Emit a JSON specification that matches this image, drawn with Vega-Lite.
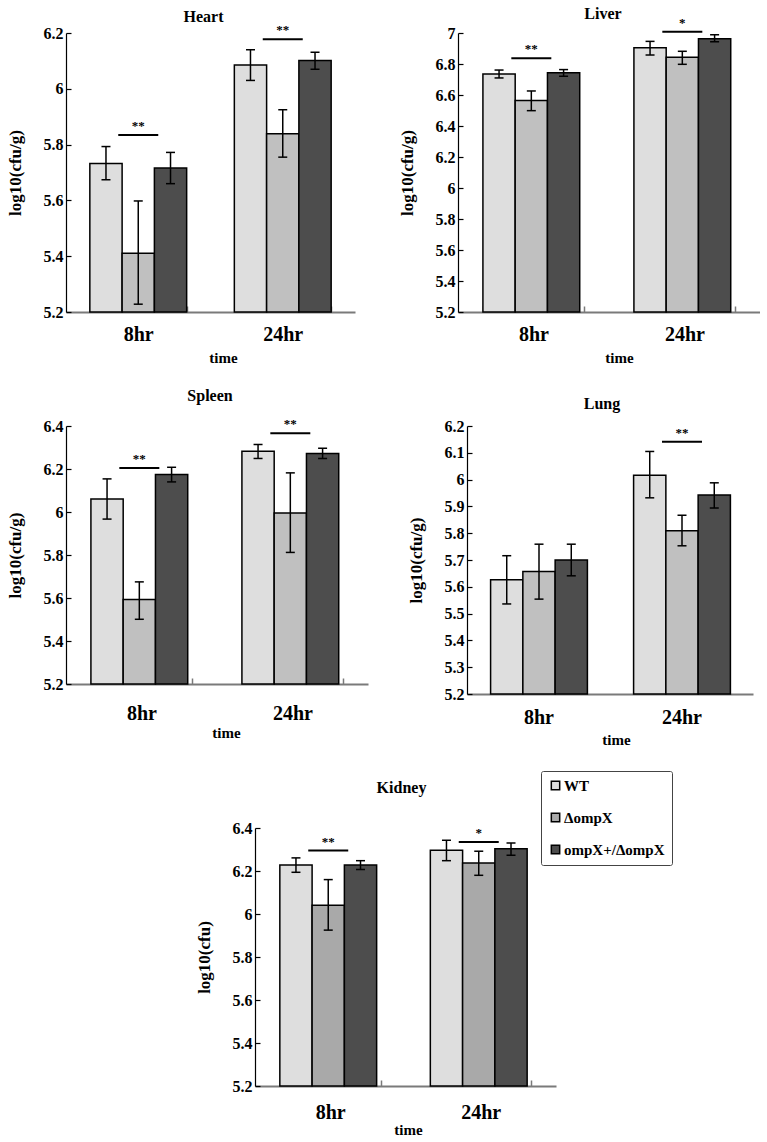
{
  "$schema": "https://vega.github.io/schema/vega-lite/v6.json",
  "background": "white",
  "padding": {"left": 6, "top": 5, "right": 0, "bottom": 0},
  "datasets": {
    "bars": [
      {"organ": "Heart", "time": "8hr", "strain": "WT", "mean": 5.732, "lo": 5.674, "hi": 5.793},
      {"organ": "Heart", "time": "8hr", "strain": "ΔompX", "mean": 5.411, "lo": 5.228, "hi": 5.598},
      {"organ": "Heart", "time": "8hr", "strain": "ompX+/ΔompX", "mean": 5.716, "lo": 5.66, "hi": 5.772},
      {"organ": "Heart", "time": "24hr", "strain": "WT", "mean": 6.085, "lo": 6.03, "hi": 6.14},
      {"organ": "Heart", "time": "24hr", "strain": "ΔompX", "mean": 5.839, "lo": 5.755, "hi": 5.925},
      {"organ": "Heart", "time": "24hr", "strain": "ompX+/ΔompX", "mean": 6.101, "lo": 6.07, "hi": 6.131},
      {"organ": "Liver", "time": "8hr", "strain": "WT", "mean": 6.736, "lo": 6.71, "hi": 6.761},
      {"organ": "Liver", "time": "8hr", "strain": "ΔompX", "mean": 6.565, "lo": 6.499, "hi": 6.626},
      {"organ": "Liver", "time": "8hr", "strain": "ompX+/ΔompX", "mean": 6.744, "lo": 6.721, "hi": 6.764},
      {"organ": "Liver", "time": "24hr", "strain": "WT", "mean": 6.905, "lo": 6.858, "hi": 6.946},
      {"organ": "Liver", "time": "24hr", "strain": "ΔompX", "mean": 6.843, "lo": 6.798, "hi": 6.882},
      {"organ": "Liver", "time": "24hr", "strain": "ompX+/ΔompX", "mean": 6.963, "lo": 6.944, "hi": 6.989},
      {"organ": "Spleen", "time": "8hr", "strain": "WT", "mean": 6.06, "lo": 5.967, "hi": 6.154},
      {"organ": "Spleen", "time": "8hr", "strain": "ΔompX", "mean": 5.593, "lo": 5.501, "hi": 5.675},
      {"organ": "Spleen", "time": "8hr", "strain": "ompX+/ΔompX", "mean": 6.174, "lo": 6.14, "hi": 6.208},
      {"organ": "Spleen", "time": "24hr", "strain": "WT", "mean": 6.283, "lo": 6.249, "hi": 6.314},
      {"organ": "Spleen", "time": "24hr", "strain": "ΔompX", "mean": 5.995, "lo": 5.812, "hi": 6.182},
      {"organ": "Spleen", "time": "24hr", "strain": "ompX+/ΔompX", "mean": 6.272, "lo": 6.249, "hi": 6.296},
      {"organ": "Lung", "time": "8hr", "strain": "WT", "mean": 5.626, "lo": 5.536, "hi": 5.716},
      {"organ": "Lung", "time": "8hr", "strain": "ΔompX", "mean": 5.657, "lo": 5.554, "hi": 5.759},
      {"organ": "Lung", "time": "8hr", "strain": "ompX+/ΔompX", "mean": 5.7, "lo": 5.641, "hi": 5.759},
      {"organ": "Lung", "time": "24hr", "strain": "WT", "mean": 6.016, "lo": 5.932, "hi": 6.105},
      {"organ": "Lung", "time": "24hr", "strain": "ΔompX", "mean": 5.809, "lo": 5.753, "hi": 5.867},
      {"organ": "Lung", "time": "24hr", "strain": "ompX+/ΔompX", "mean": 5.943, "lo": 5.894, "hi": 5.988},
      {"organ": "Kidney", "time": "8hr", "strain": "WT", "mean": 6.228, "lo": 6.194, "hi": 6.261},
      {"organ": "Kidney", "time": "8hr", "strain": "ΔompX", "mean": 6.041, "lo": 5.925, "hi": 6.16},
      {"organ": "Kidney", "time": "8hr", "strain": "ompX+/ΔompX", "mean": 6.228, "lo": 6.207, "hi": 6.248},
      {"organ": "Kidney", "time": "24hr", "strain": "WT", "mean": 6.296, "lo": 6.248, "hi": 6.343},
      {"organ": "Kidney", "time": "24hr", "strain": "ΔompX", "mean": 6.237, "lo": 6.18, "hi": 6.292},
      {"organ": "Kidney", "time": "24hr", "strain": "ompX+/ΔompX", "mean": 6.303, "lo": 6.273, "hi": 6.33}
    ],
    "sig": [
      {"organ": "Heart", "time": "8hr", "from": "WT", "to": "ΔompX", "y": 5.834, "label": "**"},
      {"organ": "Heart", "time": "24hr", "from": "WT", "to": "ΔompX", "y": 6.178, "label": "**"},
      {"organ": "Liver", "time": "8hr", "from": "WT", "to": "ΔompX", "y": 6.837, "label": "**"},
      {"organ": "Liver", "time": "24hr", "from": "WT", "to": "ΔompX", "y": 7.008, "label": "*"},
      {"organ": "Spleen", "time": "8hr", "from": "WT", "to": "ΔompX", "y": 6.205, "label": "**"},
      {"organ": "Spleen", "time": "24hr", "from": "WT", "to": "ΔompX", "y": 6.366, "label": "**"},
      {"organ": "Lung", "time": "24hr", "from": "WT", "to": "ΔompX", "y": 6.141, "label": "**"},
      {"organ": "Kidney", "time": "8hr", "from": "WT", "to": "ΔompX", "y": 6.295, "label": "**"},
      {"organ": "Kidney", "time": "24hr", "from": "WT", "to": "ΔompX", "y": 6.335, "label": "*"}
    ]
  },
  "resolve": {"scale": {"color": "independent"}},
  "spacing": 23,
  "vconcat": [
    {
      "hconcat": [
        {
          "title": {"text": "Heart", "offset": -1, "dx": -7},
          "width": 289, "height": 279,
          "layer": [
            {"data": {"name": "bars"}, "transform": [{"filter": "datum.organ === 'Heart'"}],
             "mark": {"type": "bar", "stroke": "black", "strokeWidth": 1.5},
             "encoding": {
               "x": {"field": "time", "type": "nominal", "scale": {"domain": ["8hr", "24hr"], "paddingInner": 0.33, "paddingOuter": 0.165}, "title": "time", "axis": {"labelPadding": 18, "titlePadding": 6, "titleX": 157, "tickBand": "extent", "tickSize": -6}},
               "xOffset": {"field": "strain", "type": "nominal", "scale": {"domain": ["WT", "ΔompX", "ompX+/ΔompX"]}},
               "y": {"field": "mean", "type": "quantitative", "scale": {"domain": [5.2, 6.2], "nice": false, "zero": false}, "title": "log10(cfu/g)", "axis": {"values": [5.2, 5.4, 5.6, 5.8, 6, 6.2], "tickCount": 30, "format": "~r", "labelOverlap": false}},
               "y2": {"datum": 5.2},
               "color": {"field": "strain", "type": "nominal", "scale": {"domain": ["WT", "ΔompX", "ompX+/ΔompX"], "range": ["#dedede", "#c0c0c0", "#4d4d4d"]}, "legend": null}
             }},
            {"data": {"name": "bars"}, "transform": [{"filter": "datum.organ === 'Heart'"}],
             "mark": {"type": "rule", "color": "black", "strokeWidth": 1.5},
             "encoding": {
               "x": {"field": "time", "type": "nominal", "scale": {"domain": ["8hr", "24hr"]}, "title": "time"},
               "xOffset": {"field": "strain", "type": "nominal", "scale": {"domain": ["WT", "ΔompX", "ompX+/ΔompX"]}},
               "y": {"field": "lo", "type": "quantitative", "scale": {"domain": [5.2, 6.2]}, "title": "log10(cfu/g)"},
               "y2": {"field": "hi"}
             }},
            {"data": {"name": "bars"}, "transform": [{"filter": "datum.organ === 'Heart'"}],
             "mark": {"type": "tick", "color": "black", "opacity": 1, "thickness": 1.5, "size": 9},
             "encoding": {
               "x": {"field": "time", "type": "nominal", "scale": {"domain": ["8hr", "24hr"]}, "title": "time"},
               "xOffset": {"field": "strain", "type": "nominal", "scale": {"domain": ["WT", "ΔompX", "ompX+/ΔompX"]}},
               "y": {"field": "lo", "type": "quantitative", "scale": {"domain": [5.2, 6.2]}, "title": "log10(cfu/g)"}
             }},
            {"data": {"name": "bars"}, "transform": [{"filter": "datum.organ === 'Heart'"}],
             "mark": {"type": "tick", "color": "black", "opacity": 1, "thickness": 1.5, "size": 9},
             "encoding": {
               "x": {"field": "time", "type": "nominal", "scale": {"domain": ["8hr", "24hr"]}, "title": "time"},
               "xOffset": {"field": "strain", "type": "nominal", "scale": {"domain": ["WT", "ΔompX", "ompX+/ΔompX"]}},
               "y": {"field": "hi", "type": "quantitative", "scale": {"domain": [5.2, 6.2]}, "title": "log10(cfu/g)"}
             }},
            {"data": {"name": "sig"}, "transform": [{"filter": "datum.organ === 'Heart'"}],
             "mark": {"type": "tick", "color": "black", "opacity": 1, "thickness": 2, "size": 40},
             "encoding": {
               "x": {"field": "time", "type": "nominal", "scale": {"domain": ["8hr", "24hr"]}, "title": "time"},
               "xOffset": {"field": "to", "type": "nominal", "bandPosition": 0, "scale": {"domain": ["WT", "ΔompX", "ompX+/ΔompX"]}},
               "y": {"field": "y", "type": "quantitative", "scale": {"domain": [5.2, 6.2]}, "title": "log10(cfu/g)"}
             }},
            {"data": {"name": "sig"}, "transform": [{"filter": "datum.organ === 'Heart'"}],
             "mark": {"type": "text", "color": "black", "fontSize": 13, "fontWeight": "bold", "baseline": "alphabetic", "dy": -5},
             "encoding": {
               "x": {"field": "time", "type": "nominal", "scale": {"domain": ["8hr", "24hr"]}, "title": "time"},
               "xOffset": {"field": "to", "type": "nominal", "bandPosition": 0, "scale": {"domain": ["WT", "ΔompX", "ompX+/ΔompX"]}},
               "y": {"field": "y", "type": "quantitative", "scale": {"domain": [5.2, 6.2]}, "title": "log10(cfu/g)"},
               "text": {"field": "label"}
             }}
          ]
        },
        {
          "title": {"text": "Liver", "offset": -5, "dx": -6},
          "width": 302, "height": 279,
          "layer": [
            {"data": {"name": "bars"}, "transform": [{"filter": "datum.organ === 'Liver'"}],
             "mark": {"type": "bar", "stroke": "black", "strokeWidth": 1.5},
             "encoding": {
               "x": {"field": "time", "type": "nominal", "scale": {"domain": ["8hr", "24hr"], "paddingInner": 0.33, "paddingOuter": 0.165}, "title": "time", "axis": {"labelPadding": 18, "titlePadding": 6, "titleX": 161, "tickBand": "extent", "tickSize": -6}},
               "xOffset": {"field": "strain", "type": "nominal", "scale": {"domain": ["WT", "ΔompX", "ompX+/ΔompX"]}},
               "y": {"field": "mean", "type": "quantitative", "scale": {"domain": [5.2, 7], "nice": false, "zero": false}, "title": "log10(cfu/g)", "axis": {"values": [5.2, 5.4, 5.6, 5.8, 6, 6.2, 6.4, 6.6, 6.8, 7], "tickCount": 30, "format": "~r", "labelOverlap": false}},
               "y2": {"datum": 5.2},
               "color": {"field": "strain", "type": "nominal", "scale": {"domain": ["WT", "ΔompX", "ompX+/ΔompX"], "range": ["#dedede", "#c0c0c0", "#4d4d4d"]}, "legend": null}
             }},
            {"data": {"name": "bars"}, "transform": [{"filter": "datum.organ === 'Liver'"}],
             "mark": {"type": "rule", "color": "black", "strokeWidth": 1.5},
             "encoding": {
               "x": {"field": "time", "type": "nominal", "scale": {"domain": ["8hr", "24hr"]}, "title": "time"},
               "xOffset": {"field": "strain", "type": "nominal", "scale": {"domain": ["WT", "ΔompX", "ompX+/ΔompX"]}},
               "y": {"field": "lo", "type": "quantitative", "scale": {"domain": [5.2, 7]}, "title": "log10(cfu/g)"},
               "y2": {"field": "hi"}
             }},
            {"data": {"name": "bars"}, "transform": [{"filter": "datum.organ === 'Liver'"}],
             "mark": {"type": "tick", "color": "black", "opacity": 1, "thickness": 1.5, "size": 9},
             "encoding": {
               "x": {"field": "time", "type": "nominal", "scale": {"domain": ["8hr", "24hr"]}, "title": "time"},
               "xOffset": {"field": "strain", "type": "nominal", "scale": {"domain": ["WT", "ΔompX", "ompX+/ΔompX"]}},
               "y": {"field": "lo", "type": "quantitative", "scale": {"domain": [5.2, 7]}, "title": "log10(cfu/g)"}
             }},
            {"data": {"name": "bars"}, "transform": [{"filter": "datum.organ === 'Liver'"}],
             "mark": {"type": "tick", "color": "black", "opacity": 1, "thickness": 1.5, "size": 9},
             "encoding": {
               "x": {"field": "time", "type": "nominal", "scale": {"domain": ["8hr", "24hr"]}, "title": "time"},
               "xOffset": {"field": "strain", "type": "nominal", "scale": {"domain": ["WT", "ΔompX", "ompX+/ΔompX"]}},
               "y": {"field": "hi", "type": "quantitative", "scale": {"domain": [5.2, 7]}, "title": "log10(cfu/g)"}
             }},
            {"data": {"name": "sig"}, "transform": [{"filter": "datum.organ === 'Liver'"}],
             "mark": {"type": "tick", "color": "black", "opacity": 1, "thickness": 2, "size": 40},
             "encoding": {
               "x": {"field": "time", "type": "nominal", "scale": {"domain": ["8hr", "24hr"]}, "title": "time"},
               "xOffset": {"field": "to", "type": "nominal", "bandPosition": 0, "scale": {"domain": ["WT", "ΔompX", "ompX+/ΔompX"]}},
               "y": {"field": "y", "type": "quantitative", "scale": {"domain": [5.2, 7]}, "title": "log10(cfu/g)"}
             }},
            {"data": {"name": "sig"}, "transform": [{"filter": "datum.organ === 'Liver'"}],
             "mark": {"type": "text", "color": "black", "fontSize": 13, "fontWeight": "bold", "baseline": "alphabetic", "dy": -5},
             "encoding": {
               "x": {"field": "time", "type": "nominal", "scale": {"domain": ["8hr", "24hr"]}, "title": "time"},
               "xOffset": {"field": "to", "type": "nominal", "bandPosition": 0, "scale": {"domain": ["WT", "ΔompX", "ompX+/ΔompX"]}},
               "y": {"field": "y", "type": "quantitative", "scale": {"domain": [5.2, 7]}, "title": "log10(cfu/g)"},
               "text": {"field": "label"}
             }}
          ]
        }
      ],
      "spacing": 103,
      "bounds": "flush"
    },
    {
      "hconcat": [
        {
          "title": {"text": "Spleen", "offset": 14, "dx": -7},
          "width": 302, "height": 258,
          "layer": [
            {"data": {"name": "bars"}, "transform": [{"filter": "datum.organ === 'Spleen'"}],
             "mark": {"type": "bar", "stroke": "black", "strokeWidth": 1.5},
             "encoding": {
               "x": {"field": "time", "type": "nominal", "scale": {"domain": ["8hr", "24hr"], "paddingInner": 0.33, "paddingOuter": 0.165}, "title": "time", "axis": {"labelPadding": 25, "titlePadding": 2, "titleX": 160, "tickBand": "extent", "tickSize": -6}},
               "xOffset": {"field": "strain", "type": "nominal", "scale": {"domain": ["WT", "ΔompX", "ompX+/ΔompX"]}},
               "y": {"field": "mean", "type": "quantitative", "scale": {"domain": [5.2, 6.4], "nice": false, "zero": false}, "title": "log10(cfu/g)", "axis": {"values": [5.2, 5.4, 5.6, 5.8, 6, 6.2, 6.4], "tickCount": 30, "format": "~r", "labelOverlap": false}},
               "y2": {"datum": 5.2},
               "color": {"field": "strain", "type": "nominal", "scale": {"domain": ["WT", "ΔompX", "ompX+/ΔompX"], "range": ["#dedede", "#c0c0c0", "#4d4d4d"]}, "legend": null}
             }},
            {"data": {"name": "bars"}, "transform": [{"filter": "datum.organ === 'Spleen'"}],
             "mark": {"type": "rule", "color": "black", "strokeWidth": 1.5},
             "encoding": {
               "x": {"field": "time", "type": "nominal", "scale": {"domain": ["8hr", "24hr"]}, "title": "time"},
               "xOffset": {"field": "strain", "type": "nominal", "scale": {"domain": ["WT", "ΔompX", "ompX+/ΔompX"]}},
               "y": {"field": "lo", "type": "quantitative", "scale": {"domain": [5.2, 6.4]}, "title": "log10(cfu/g)"},
               "y2": {"field": "hi"}
             }},
            {"data": {"name": "bars"}, "transform": [{"filter": "datum.organ === 'Spleen'"}],
             "mark": {"type": "tick", "color": "black", "opacity": 1, "thickness": 1.5, "size": 9},
             "encoding": {
               "x": {"field": "time", "type": "nominal", "scale": {"domain": ["8hr", "24hr"]}, "title": "time"},
               "xOffset": {"field": "strain", "type": "nominal", "scale": {"domain": ["WT", "ΔompX", "ompX+/ΔompX"]}},
               "y": {"field": "lo", "type": "quantitative", "scale": {"domain": [5.2, 6.4]}, "title": "log10(cfu/g)"}
             }},
            {"data": {"name": "bars"}, "transform": [{"filter": "datum.organ === 'Spleen'"}],
             "mark": {"type": "tick", "color": "black", "opacity": 1, "thickness": 1.5, "size": 9},
             "encoding": {
               "x": {"field": "time", "type": "nominal", "scale": {"domain": ["8hr", "24hr"]}, "title": "time"},
               "xOffset": {"field": "strain", "type": "nominal", "scale": {"domain": ["WT", "ΔompX", "ompX+/ΔompX"]}},
               "y": {"field": "hi", "type": "quantitative", "scale": {"domain": [5.2, 6.4]}, "title": "log10(cfu/g)"}
             }},
            {"data": {"name": "sig"}, "transform": [{"filter": "datum.organ === 'Spleen'"}],
             "mark": {"type": "tick", "color": "black", "opacity": 1, "thickness": 2, "size": 40},
             "encoding": {
               "x": {"field": "time", "type": "nominal", "scale": {"domain": ["8hr", "24hr"]}, "title": "time"},
               "xOffset": {"field": "to", "type": "nominal", "bandPosition": 0, "scale": {"domain": ["WT", "ΔompX", "ompX+/ΔompX"]}},
               "y": {"field": "y", "type": "quantitative", "scale": {"domain": [5.2, 6.4]}, "title": "log10(cfu/g)"}
             }},
            {"data": {"name": "sig"}, "transform": [{"filter": "datum.organ === 'Spleen'"}],
             "mark": {"type": "text", "color": "black", "fontSize": 13, "fontWeight": "bold", "baseline": "alphabetic", "dy": -5},
             "encoding": {
               "x": {"field": "time", "type": "nominal", "scale": {"domain": ["8hr", "24hr"]}, "title": "time"},
               "xOffset": {"field": "to", "type": "nominal", "bandPosition": 0, "scale": {"domain": ["WT", "ΔompX", "ompX+/ΔompX"]}},
               "y": {"field": "y", "type": "quantitative", "scale": {"domain": [5.2, 6.4]}, "title": "log10(cfu/g)"},
               "text": {"field": "label"}
             }}
          ]
        },
        {
          "title": {"text": "Lung", "offset": 6, "dx": -8},
          "width": 286, "height": 268,
          "layer": [
            {"data": {"name": "bars"}, "transform": [{"filter": "datum.organ === 'Lung'"}],
             "mark": {"type": "bar", "stroke": "black", "strokeWidth": 1.5},
             "encoding": {
               "x": {"field": "time", "type": "nominal", "scale": {"domain": ["8hr", "24hr"], "paddingInner": 0.33, "paddingOuter": 0.165}, "title": "time", "axis": {"labelPadding": 19, "titlePadding": 5, "titleX": 149, "tickBand": "extent", "tickSize": -6}},
               "xOffset": {"field": "strain", "type": "nominal", "scale": {"domain": ["WT", "ΔompX", "ompX+/ΔompX"]}},
               "y": {"field": "mean", "type": "quantitative", "scale": {"domain": [5.2, 6.2], "nice": false, "zero": false}, "title": "log10(cfu/g)", "axis": {"values": [5.2, 5.3, 5.4, 5.5, 5.6, 5.7, 5.8, 5.9, 6, 6.1, 6.2], "tickCount": 30, "format": "~r", "labelOverlap": false}},
               "y2": {"datum": 5.2},
               "color": {"field": "strain", "type": "nominal", "scale": {"domain": ["WT", "ΔompX", "ompX+/ΔompX"], "range": ["#dedede", "#c0c0c0", "#4d4d4d"]}, "legend": null}
             }},
            {"data": {"name": "bars"}, "transform": [{"filter": "datum.organ === 'Lung'"}],
             "mark": {"type": "rule", "color": "black", "strokeWidth": 1.5},
             "encoding": {
               "x": {"field": "time", "type": "nominal", "scale": {"domain": ["8hr", "24hr"]}, "title": "time"},
               "xOffset": {"field": "strain", "type": "nominal", "scale": {"domain": ["WT", "ΔompX", "ompX+/ΔompX"]}},
               "y": {"field": "lo", "type": "quantitative", "scale": {"domain": [5.2, 6.2]}, "title": "log10(cfu/g)"},
               "y2": {"field": "hi"}
             }},
            {"data": {"name": "bars"}, "transform": [{"filter": "datum.organ === 'Lung'"}],
             "mark": {"type": "tick", "color": "black", "opacity": 1, "thickness": 1.5, "size": 9},
             "encoding": {
               "x": {"field": "time", "type": "nominal", "scale": {"domain": ["8hr", "24hr"]}, "title": "time"},
               "xOffset": {"field": "strain", "type": "nominal", "scale": {"domain": ["WT", "ΔompX", "ompX+/ΔompX"]}},
               "y": {"field": "lo", "type": "quantitative", "scale": {"domain": [5.2, 6.2]}, "title": "log10(cfu/g)"}
             }},
            {"data": {"name": "bars"}, "transform": [{"filter": "datum.organ === 'Lung'"}],
             "mark": {"type": "tick", "color": "black", "opacity": 1, "thickness": 1.5, "size": 9},
             "encoding": {
               "x": {"field": "time", "type": "nominal", "scale": {"domain": ["8hr", "24hr"]}, "title": "time"},
               "xOffset": {"field": "strain", "type": "nominal", "scale": {"domain": ["WT", "ΔompX", "ompX+/ΔompX"]}},
               "y": {"field": "hi", "type": "quantitative", "scale": {"domain": [5.2, 6.2]}, "title": "log10(cfu/g)"}
             }},
            {"data": {"name": "sig"}, "transform": [{"filter": "datum.organ === 'Lung'"}],
             "mark": {"type": "tick", "color": "black", "opacity": 1, "thickness": 2, "size": 40},
             "encoding": {
               "x": {"field": "time", "type": "nominal", "scale": {"domain": ["8hr", "24hr"]}, "title": "time"},
               "xOffset": {"field": "to", "type": "nominal", "bandPosition": 0, "scale": {"domain": ["WT", "ΔompX", "ompX+/ΔompX"]}},
               "y": {"field": "y", "type": "quantitative", "scale": {"domain": [5.2, 6.2]}, "title": "log10(cfu/g)"}
             }},
            {"data": {"name": "sig"}, "transform": [{"filter": "datum.organ === 'Lung'"}],
             "mark": {"type": "text", "color": "black", "fontSize": 13, "fontWeight": "bold", "baseline": "alphabetic", "dy": -5},
             "encoding": {
               "x": {"field": "time", "type": "nominal", "scale": {"domain": ["8hr", "24hr"]}, "title": "time"},
               "xOffset": {"field": "to", "type": "nominal", "bandPosition": 0, "scale": {"domain": ["WT", "ΔompX", "ompX+/ΔompX"]}},
               "y": {"field": "y", "type": "quantitative", "scale": {"domain": [5.2, 6.2]}, "title": "log10(cfu/g)"},
               "text": {"field": "label"}
             }}
          ]
        }
      ],
      "spacing": 99,
      "bounds": "flush"
    },
    {
      "hconcat": [
        {
          "width": 189, "height": 20,
          "data": {"values": []},
          "mark": {"type": "point", "opacity": 0},
          "encoding": {}
        },
        {
          "title": {"text": "Kidney", "offset": 24, "dx": -4},
          "width": 301, "height": 258,
          "layer": [
            {"data": {"name": "bars"}, "transform": [{"filter": "datum.organ === 'Kidney'"}],
             "mark": {"type": "bar", "stroke": "black", "strokeWidth": 1.5},
             "encoding": {
               "x": {"field": "time", "type": "nominal", "scale": {"domain": ["8hr", "24hr"], "paddingInner": 0.33, "paddingOuter": 0.165}, "title": "time", "axis": {"labelPadding": 22, "titlePadding": 0, "titleX": 153, "tickBand": "extent", "tickSize": -6}},
               "xOffset": {"field": "strain", "type": "nominal", "scale": {"domain": ["WT", "ΔompX", "ompX+/ΔompX"]}},
               "y": {"field": "mean", "type": "quantitative", "scale": {"domain": [5.2, 6.4], "nice": false, "zero": false}, "title": "log10(cfu)", "axis": {"values": [5.2, 5.4, 5.6, 5.8, 6, 6.2, 6.4], "tickCount": 30, "format": "~r", "labelOverlap": false}},
               "y2": {"datum": 5.2},
               "color": {"field": "strain", "type": "nominal", "scale": {"domain": ["WT", "ΔompX", "ompX+/ΔompX"], "range": ["#dedede", "#a9a9a9", "#4d4d4d"]},
                 "legend": {"title": null, "orient": "none", "legendX": 475, "legendY": -57, "symbolType": "square", "symbolSize": 70, "symbolStrokeColor": "black", "symbolStrokeWidth": 1.5, "labelFont": "Liberation Serif", "labelFontWeight": "bold", "labelFontSize": 15, "labelColor": "black", "labelLimit": 200, "labelOffset": 1, "strokeColor": "#444", "fillColor": "white", "padding": 7, "rowPadding": 16, "cornerRadius": 2}}
             }},
            {"data": {"name": "bars"}, "transform": [{"filter": "datum.organ === 'Kidney'"}],
             "mark": {"type": "rule", "color": "black", "strokeWidth": 1.5},
             "encoding": {
               "x": {"field": "time", "type": "nominal", "scale": {"domain": ["8hr", "24hr"]}, "title": "time"},
               "xOffset": {"field": "strain", "type": "nominal", "scale": {"domain": ["WT", "ΔompX", "ompX+/ΔompX"]}},
               "y": {"field": "lo", "type": "quantitative", "scale": {"domain": [5.2, 6.4]}, "title": "log10(cfu)"},
               "y2": {"field": "hi"}
             }},
            {"data": {"name": "bars"}, "transform": [{"filter": "datum.organ === 'Kidney'"}],
             "mark": {"type": "tick", "color": "black", "opacity": 1, "thickness": 1.5, "size": 9},
             "encoding": {
               "x": {"field": "time", "type": "nominal", "scale": {"domain": ["8hr", "24hr"]}, "title": "time"},
               "xOffset": {"field": "strain", "type": "nominal", "scale": {"domain": ["WT", "ΔompX", "ompX+/ΔompX"]}},
               "y": {"field": "lo", "type": "quantitative", "scale": {"domain": [5.2, 6.4]}, "title": "log10(cfu)"}
             }},
            {"data": {"name": "bars"}, "transform": [{"filter": "datum.organ === 'Kidney'"}],
             "mark": {"type": "tick", "color": "black", "opacity": 1, "thickness": 1.5, "size": 9},
             "encoding": {
               "x": {"field": "time", "type": "nominal", "scale": {"domain": ["8hr", "24hr"]}, "title": "time"},
               "xOffset": {"field": "strain", "type": "nominal", "scale": {"domain": ["WT", "ΔompX", "ompX+/ΔompX"]}},
               "y": {"field": "hi", "type": "quantitative", "scale": {"domain": [5.2, 6.4]}, "title": "log10(cfu)"}
             }},
            {"data": {"name": "sig"}, "transform": [{"filter": "datum.organ === 'Kidney'"}],
             "mark": {"type": "tick", "color": "black", "opacity": 1, "thickness": 2, "size": 40},
             "encoding": {
               "x": {"field": "time", "type": "nominal", "scale": {"domain": ["8hr", "24hr"]}, "title": "time"},
               "xOffset": {"field": "to", "type": "nominal", "bandPosition": 0, "scale": {"domain": ["WT", "ΔompX", "ompX+/ΔompX"]}},
               "y": {"field": "y", "type": "quantitative", "scale": {"domain": [5.2, 6.4]}, "title": "log10(cfu)"}
             }},
            {"data": {"name": "sig"}, "transform": [{"filter": "datum.organ === 'Kidney'"}],
             "mark": {"type": "text", "color": "black", "fontSize": 13, "fontWeight": "bold", "baseline": "alphabetic", "dy": -5},
             "encoding": {
               "x": {"field": "time", "type": "nominal", "scale": {"domain": ["8hr", "24hr"]}, "title": "time"},
               "xOffset": {"field": "to", "type": "nominal", "bandPosition": 0, "scale": {"domain": ["WT", "ΔompX", "ompX+/ΔompX"]}},
               "y": {"field": "y", "type": "quantitative", "scale": {"domain": [5.2, 6.4]}, "title": "log10(cfu)"},
               "text": {"field": "label"}
             }}
          ]
        }
      ],
      "spacing": 0,
      "bounds": "flush"
    }
  ],
  "config": {
    "font": "Liberation Serif",
    "view": {"stroke": null},
    "axis": {"labelFont": "Liberation Serif", "titleFont": "Liberation Serif", "labelFontWeight": "bold", "titleFontWeight": "bold", "labelColor": "black", "titleColor": "black", "grid": false, "domainColor": "black", "tickColor": "black"},
    "axisY": {"labelFontSize": 16, "titleFontSize": 17, "tickSize": -5, "tickWidth": 1.2, "domainWidth": 1.2, "labelPadding": 8, "titlePadding": 19, "labelOverlap": false},
    "axisX": {"labelFontSize": 20, "titleFontSize": 15, "labelAngle": 0, "domainColor": "#7a7a7a", "domainWidth": 2, "tickColor": "#7a7a7a", "tickWidth": 1.5},
    "title": {"font": "Liberation Serif", "fontSize": 16, "fontWeight": "bold", "color": "black"}
  }
}
